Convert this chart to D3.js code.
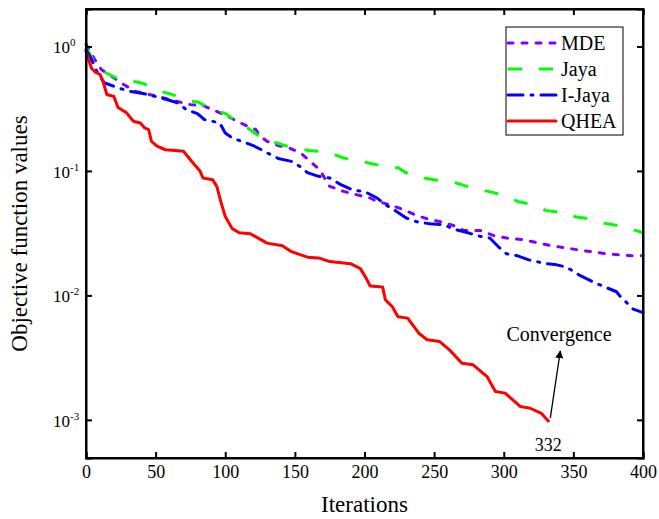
<!DOCTYPE html>
<html>
<head>
<meta charset="utf-8">
<script src="https://cdn.jsdelivr.net/npm/d3@7"></script>
<style>
  body { margin: 0; background: #fff; }
  svg { font-family: "Liberation Serif", "Times New Roman", serif; }
</style>
</head>
<body>
<svg id="chart" width="659" height="519"></svg>
<script>
// iteraciones y valores de cada algoritmo
const mdeIter = [0, 7, 11, 20, 27, 35, 42, 53, 65, 75, 84, 99, 115, 122, 125, 130, 138, 146, 154, 161, 168, 172, 175, 185, 194, 204, 209, 218, 228, 238, 247, 256, 265, 271, 283, 293, 302, 314, 331, 345, 357, 374, 388, 400];
const mdeVal = [1.04, 0.762, 0.653, 0.56, 0.495, 0.437, 0.419, 0.394, 0.363, 0.341, 0.335, 0.284, 0.231, 0.215, 0.19, 0.173, 0.16, 0.153, 0.14, 0.119, 0.102, 0.0851, 0.0752, 0.0685, 0.0645, 0.0606, 0.0569, 0.0536, 0.0488, 0.0437, 0.0406, 0.0389, 0.036, 0.0333, 0.0333, 0.0302, 0.0289, 0.028, 0.0255, 0.024, 0.0229, 0.0216, 0.0209, 0.0208];

const jayaIter = [0, 6, 12, 24, 34, 41, 53, 62, 72, 81, 91, 100, 108, 115, 124, 133, 146, 160, 174, 185, 193, 203, 212, 224, 231, 243, 253, 266, 272, 283, 292, 302, 310, 321, 330, 343, 350, 361, 371, 383, 393, 400];
const jayaVal = [0.98, 0.743, 0.633, 0.543, 0.526, 0.504, 0.437, 0.411, 0.37, 0.356, 0.311, 0.289, 0.251, 0.226, 0.192, 0.173, 0.156, 0.146, 0.142, 0.127, 0.122, 0.116, 0.11, 0.106, 0.0951, 0.0878, 0.0835, 0.08, 0.0762, 0.0707, 0.0673, 0.0625, 0.0569, 0.0536, 0.0482, 0.0459, 0.0431, 0.0413, 0.0382, 0.0363, 0.0337, 0.0319];

const ijayaIter = [0, 4, 7, 13, 23, 31, 41, 51, 58, 66, 72, 80, 85, 96, 100, 105, 115, 121, 130, 138, 148, 154, 159, 167, 175, 183, 192, 200, 209, 215, 223, 230, 239, 247, 257, 264, 271, 283, 290, 296, 302, 310, 318, 330, 338, 345, 355, 367, 381, 383, 393, 400];
const ijayaVal = [0.946, 0.786, 0.653, 0.511, 0.465, 0.437, 0.419, 0.394, 0.375, 0.352, 0.311, 0.289, 0.259, 0.243, 0.202, 0.184, 0.168, 0.158, 0.14, 0.126, 0.119, 0.108, 0.0969, 0.0905, 0.0878, 0.0776, 0.0698, 0.0685, 0.0606, 0.0536, 0.0473, 0.0419, 0.0386, 0.0377, 0.037, 0.0341, 0.0326, 0.0298, 0.0289, 0.0247, 0.0216, 0.0208, 0.0193, 0.018, 0.0176, 0.0169, 0.0144, 0.0124, 0.0107, 0.01, 0.00776, 0.00728];

const qheaIter = [0, 4, 7, 10, 12, 15, 20, 23, 29, 34, 39, 42, 45, 47, 51, 57, 64, 70, 76, 82, 84, 91, 94, 97, 100, 105, 110, 118, 123, 130, 141, 147, 159, 167, 175, 190, 197, 201, 204, 213, 215, 220, 224, 231, 239, 245, 254, 261, 270, 278, 288, 294, 301, 312, 319, 327, 332];
const qheaVal = [0.912, 0.665, 0.618, 0.596, 0.533, 0.411, 0.396, 0.323, 0.294, 0.251, 0.243, 0.222, 0.215, 0.173, 0.158, 0.148, 0.146, 0.144, 0.119, 0.0993, 0.0878, 0.0851, 0.0748, 0.0556, 0.0431, 0.0344, 0.0319, 0.0313, 0.0291, 0.0263, 0.0251, 0.0226, 0.0203, 0.02, 0.0187, 0.018, 0.0164, 0.0139, 0.0119, 0.0117, 0.00922, 0.0081, 0.00673, 0.00657, 0.00497, 0.0044, 0.00426, 0.00365, 0.00285, 0.00277, 0.00223, 0.00169, 0.00164, 0.00128, 0.00124, 0.00113, 0.00098];

const xTicks = [0, 50, 100, 150, 200, 250, 300, 350, 400];
const yTicks = [1, 0.1, 0.01, 0.001];
const yExpo = ["0", "-1", "-2", "-3"];

const convIter = 332;

const series = [
  { nombre: "MDE", iter: mdeIter, val: mdeVal, color: "#8000ff", dash: "5,9", cap: "round" },
  { nombre: "Jaya", iter: jayaIter, val: jayaVal, color: "#00ff00", dash: "14,17", cap: "butt" },
  { nombre: "I-Jaya", iter: ijayaIter, val: ijayaVal, color: "#0000ff", dash: "15,8,2,8", cap: "round" },
  { nombre: "QHEA", iter: qheaIter, val: qheaVal, color: "#ff0000", dash: null, cap: "round" }
];

const svg = d3.select("#chart");
const mLeft = 86, mRight = 643, mTop = 9, mBottom = 458;

const x = d3.scaleLinear().domain([0, 400]).range([mLeft, mRight]);
const y = d3.scaleLog().domain([0.000494, 2.0]).range([mBottom, mTop]);

// curvas
const linea = d3.line().x(d => x(d[0])).y(d => y(d[1]));

series.forEach(s => {
  const pts = s.iter.map((it, i) => [it, s.val[i]]);
  svg.append("path")
    .datum(pts)
    .attr("d", linea)
    .attr("fill", "none")
    .attr("stroke", s.color)
    .attr("stroke-width", 3)
    .attr("stroke-linecap", s.cap)
    .attr("stroke-linejoin", "round")
    .attr("stroke-dasharray", s.dash);
});

// ejes (ticks hacia adentro, en los cuatro lados)
const tk = 6;
svg.append("g").attr("transform", `translate(0,${mBottom})`)
  .call(d3.axisBottom(x).tickValues(xTicks).tickSize(-tk).tickPadding(7).tickFormat(d3.format("d")))
  .call(g => g.selectAll("text").attr("font-size", 18).attr("font-family", "Liberation Serif").attr("fill", "#000"));
svg.append("g").attr("transform", `translate(0,${mTop})`)
  .call(d3.axisTop(x).tickValues(xTicks).tickSize(-tk).tickFormat(""));
svg.append("g").attr("transform", `translate(${mLeft},0)`)
  .call(d3.axisLeft(y).tickValues(yTicks).tickSize(-tk).tickFormat(""));
svg.append("g").attr("transform", `translate(${mRight},0)`)
  .call(d3.axisRight(y).tickValues(yTicks).tickSize(-tk).tickFormat(""));

svg.selectAll(".domain").attr("stroke", "#000").attr("stroke-width", 2);
svg.selectAll(".tick line").attr("stroke", "#000").attr("stroke-width", 2);

// etiquetas del eje y: 10^n
yTicks.forEach((t, i) => {
  const lab = svg.append("text")
    .attr("x", 53)
    .attr("y", y(t) + 7)
    .attr("font-size", 17)
    .attr("fill", "#000");
  lab.append("tspan").text("10");
  lab.append("tspan").attr("dy", -7).attr("font-size", 11).text(yExpo[i]);
});

// marco
svg.append("rect")
  .attr("x", mLeft).attr("y", mTop)
  .attr("width", mRight - mLeft).attr("height", mBottom - mTop)
  .attr("fill", "none").attr("stroke", "#000").attr("stroke-width", 2);

// titulos
svg.append("text")
  .attr("x", (mLeft + mRight) / 2).attr("y", 512)
  .attr("text-anchor", "middle").attr("font-size", 23)
  .text("Iterations");
svg.append("text")
  .attr("transform", `translate(27,${(mTop + mBottom) / 2}) rotate(-90)`)
  .attr("text-anchor", "middle").attr("font-size", 23)
  .text("Objective function values");

// leyenda
const leg = svg.append("g");
leg.append("rect")
  .attr("x", 506).attr("y", 27)
  .attr("width", 117).attr("height", 108)
  .attr("fill", "#fff").attr("stroke", "#000").attr("stroke-width", 1);
series.forEach((s, i) => {
  const yy = 43 + i * 26;
  leg.append("line")
    .attr("x1", 508).attr("x2", 556)
    .attr("y1", yy).attr("y2", yy)
    .attr("stroke", s.color).attr("stroke-width", 3)
    .attr("stroke-linecap", s.cap)
    .attr("stroke-dasharray", s.dash);
  leg.append("text")
    .attr("x", 561).attr("y", yy + 7)
    .attr("font-size", 20)
    .text(s.nombre);
});

// anotacion de convergencia
svg.append("defs").append("marker")
  .attr("id", "flecha")
  .attr("viewBox", "0 0 10 10")
  .attr("refX", 9).attr("refY", 5)
  .attr("markerWidth", 8).attr("markerHeight", 8)
  .attr("markerUnits", "userSpaceOnUse")
  .attr("orient", "auto")
  .append("path").attr("d", "M0,0 L10,5 L0,10 z").attr("fill", "#000");

const convVal = qheaVal[qheaIter.indexOf(convIter)];
svg.append("line")
  .attr("x1", x(convIter) + 2).attr("y1", y(convVal) - 3)
  .attr("x2", x(convIter) + 12).attr("y2", 351)
  .attr("stroke", "#000").attr("stroke-width", 1.3)
  .attr("marker-end", "url(#flecha)");
svg.append("text")
  .attr("x", 559).attr("y", 341)
  .attr("text-anchor", "middle").attr("font-size", 20)
  .text("Convergence");
svg.append("text")
  .attr("x", x(convIter)).attr("y", 451)
  .attr("text-anchor", "middle").attr("font-size", 18)
  .text(String(convIter));
</script>
</body>
</html>
